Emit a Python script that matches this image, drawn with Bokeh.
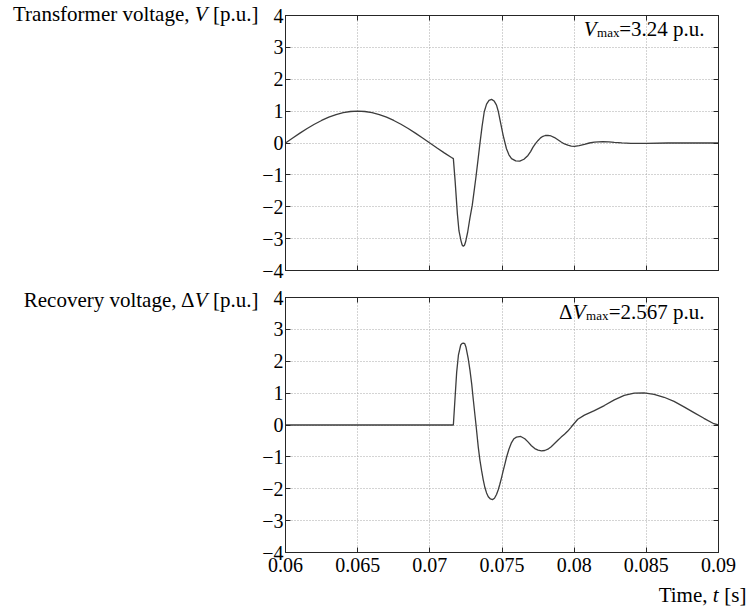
from bokeh.plotting import figure
from bokeh.layouts import column, row
from bokeh.models import Label, LinearAxis, FixedTicker, Range1d
from bokeh.embed import file_html
from bokeh.resources import INLINE

# ---------------- data ----------------
x_ticks = [0.06, 0.065, 0.07, 0.075, 0.08, 0.085, 0.09]
x_tick_labels = ["0.06", "0.065", "0.07", "0.075", "0.08", "0.085", "0.09"]
y_ticks = [-4, -3, -2, -1, 0, 1, 2, 3, 4]
y_tick_labels = ["\u22124", "\u22123", "\u22122", "\u22121", "0", "1", "2", "3", "4"]

# Transformer voltage V [p.u.]
t_v = [0.0600, 0.0605, 0.0610, 0.0615, 0.0620, 0.0625, 0.0630, 0.0635, 0.0640, 0.0645,
       0.0650, 0.0655, 0.0660, 0.0665, 0.0670, 0.0675, 0.0680, 0.0685, 0.0690, 0.0695,
       0.0700, 0.0705, 0.0710, 0.0715, 0.07163,
       0.07175, 0.07191, 0.07202, 0.07216, 0.07224, 0.07232,
       0.07240, 0.07248, 0.07262, 0.07278, 0.07294, 0.07310, 0.07320, 0.07334, 0.07347,
       0.07362, 0.07377, 0.07393, 0.07410, 0.07428, 0.07445, 0.07462, 0.07475, 0.07485,
       0.07497, 0.07508, 0.07520, 0.07531, 0.07548, 0.07566, 0.07595, 0.07623, 0.07652,
       0.07680, 0.07698, 0.07715, 0.07732, 0.07750, 0.07767, 0.07784, 0.07800, 0.07818,
       0.07840, 0.07864, 0.07887, 0.07910, 0.07933, 0.07956, 0.07980, 0.08002, 0.08035,
       0.08071, 0.08105, 0.08140, 0.08198, 0.08240, 0.08278, 0.08330, 0.08393, 0.08500,
       0.08650, 0.09000]
v_v = [0.000, 0.156, 0.309, 0.454, 0.588, 0.707, 0.809, 0.891, 0.951, 0.988,
       1.000, 0.988, 0.951, 0.891, 0.809, 0.707, 0.588, 0.454, 0.309, 0.156,
       0.000, -0.156, -0.309, -0.454, -0.49,
       -1.18, -2.23, -2.76, -3.07, -3.20, -3.24,
       -3.21, -3.10, -2.80, -2.35, -1.95, -1.40, -1.05, -0.52, -0.02,
       0.52, 0.98, 1.22, 1.34, 1.37, 1.32, 1.19, 0.98, 0.75,
       0.48, 0.24, 0.02, -0.18, -0.37, -0.49, -0.56, -0.57, -0.51,
       -0.39, -0.27, -0.13, -0.02, 0.08, 0.16, 0.21, 0.235, 0.24,
       0.22, 0.17, 0.10, 0.03, -0.03, -0.07, -0.10, -0.105, -0.08,
       -0.04, 0.00, 0.03, 0.04, 0.035, 0.02, 0.005, -0.01, -0.01,
       0.00, 0.00]

# Recovery voltage dV [p.u.]
t_dv = [0.0600, 0.0650, 0.0700, 0.07163,
        0.07175, 0.07186, 0.07198, 0.07214, 0.07224, 0.07232, 0.07242, 0.07250, 0.07266,
        0.07278, 0.07290, 0.07301, 0.07313, 0.07320, 0.07336, 0.07347, 0.07359, 0.07370,
        0.07382, 0.07393, 0.07405, 0.07420, 0.07434, 0.07448, 0.07462, 0.07474, 0.07485,
        0.07497, 0.07508, 0.07520, 0.07531, 0.07548, 0.07566, 0.07583, 0.07600, 0.07630,
        0.07658, 0.07680, 0.07704, 0.07727, 0.07750, 0.07773, 0.07796, 0.07818, 0.07841,
        0.07864, 0.07887, 0.07910, 0.07933, 0.07956, 0.07975, 0.07991, 0.08025, 0.08071,
        0.08140, 0.08209, 0.08278, 0.08347, 0.08416, 0.08485, 0.08554, 0.08623, 0.08692,
        0.08761, 0.08830, 0.08899, 0.08968, 0.09000]
v_dv = [0.0, 0.0, 0.0, 0.0,
        0.87, 1.66, 2.19, 2.51, 2.56, 2.567, 2.55, 2.45, 2.08,
        1.72, 1.29, 0.80, 0.29, 0.00, -0.71, -1.10, -1.44, -1.72,
        -1.97, -2.13, -2.25, -2.32, -2.34, -2.30, -2.18, -2.03, -1.86,
        -1.65, -1.44, -1.23, -1.02, -0.76, -0.55, -0.43, -0.38, -0.36,
        -0.43, -0.53, -0.65, -0.74, -0.79, -0.81, -0.80, -0.76, -0.68,
        -0.58, -0.48, -0.38, -0.29, -0.19, -0.09, 0.00, 0.18, 0.31,
        0.45, 0.61, 0.79, 0.93, 1.00, 1.01, 0.96, 0.87, 0.74,
        0.57, 0.39, 0.21, 0.04, 0.00]

FONT = "Liberation Serif"
EDGE = "#262626"
LINE = "#3c3c3c"
GRID = "#a8a8a8"

LEFT_W = 259          # width of the text column left of the plots
MAIN_W = 491          # width of each plot canvas
TOP_H = 283
BOT_H = 295
XLAB_H = 30


def style_axis(ax, show_labels, standoff):
    ax.axis_line_color = EDGE
    ax.major_tick_line_color = EDGE
    ax.major_tick_in = 5
    ax.major_tick_out = 0
    ax.minor_tick_line_color = None
    ax.major_label_text_font = FONT
    ax.major_label_standoff = standoff
    if show_labels:
        ax.major_label_text_font_size = "20px"
        ax.major_label_text_color = "black"
    else:
        ax.major_label_text_font_size = "1px"
        ax.major_label_text_color = None
        ax.major_label_standoff = 0


def make_fig(height, top, bottom, show_x_labels):
    p = figure(width=MAIN_W, height=height,
               x_range=Range1d(0.06, 0.09), y_range=Range1d(-4, 4),
               output_backend="svg", toolbar_location=None,
               min_border_left=24, min_border_right=MAIN_W - 24 - 435,
               min_border_top=top, min_border_bottom=bottom)
    p.background_fill_color = "white"
    p.border_fill_color = "white"
    p.outline_line_color = EDGE
    xt = FixedTicker(ticks=x_ticks)
    yt = FixedTicker(ticks=y_ticks)
    p.xaxis.ticker = xt
    p.yaxis.ticker = yt
    p.xaxis.major_label_overrides = {k: s for k, s in zip(x_ticks, x_tick_labels)}
    p.yaxis.major_label_overrides = {k: s for k, s in zip(y_ticks, y_tick_labels)}
    style_axis(p.xaxis[0], show_x_labels, 5)
    style_axis(p.yaxis[0], True, 2)
    ax_top = LinearAxis(ticker=xt)
    style_axis(ax_top, False, 0)
    ax_right = LinearAxis(ticker=yt)
    style_axis(ax_right, False, 0)
    p.add_layout(ax_top, "above")
    p.add_layout(ax_right, "right")
    p.xgrid.ticker = xt
    p.ygrid.ticker = yt
    p.grid.grid_line_color = GRID
    p.grid.grid_line_dash = "1 2"
    p.grid.grid_line_width = 1
    return p


def text_fig(width, height):
    # blank canvas whose data units are pixels, y measured from the top
    f = figure(width=width, height=height,
               x_range=Range1d(0, width), y_range=Range1d(0, height),
               output_backend="svg", toolbar_location=None, title=None,
               x_axis_location=None, y_axis_location=None,
               min_border=0, min_border_top=0, min_border_bottom=0,
               min_border_left=0, min_border_right=0)
    f.grid.visible = False
    f.outline_line_color = None
    f.background_fill_color = "white"
    f.border_fill_color = "white"
    return f


def lab(p, x, y, text, xo=0, yo=0, size="21px", style="normal", align="right"):
    p.add_layout(Label(x=x, y=y, x_offset=xo, y_offset=yo, text=text,
                       text_font=FONT, text_font_size=size, text_font_style=style,
                       text_align=align, text_baseline="middle",
                       text_color="black"))


def tlab(f, x, y_from_top, text, size="21px", style="normal"):
    h = f.y_range.end
    lab(f, x, h - y_from_top, text, size=size, style=style)


# ---------------- top ----------------
p1 = make_fig(TOP_H, 15, 13, False)
p1.line(t_v, v_v, line_color=LINE, line_width=1.3)
lab(p1, 0.09, 4, "=3.24 p.u.", -14, -13)
lab(p1, 0.09, 4, "max", -99, -17, size="13px")
lab(p1, 0.09, 4, "V", -122, -13, style="italic")

t1 = text_fig(LEFT_W, TOP_H)
tlab(t1, 258, 13, "[p.u.]")
tlab(t1, 207, 13, "V", style="italic")
tlab(t1, 189, 13, "Transformer voltage,")

# ---------------- bottom ----------------
p2 = make_fig(BOT_H, 14, 26, True)
p2.line(t_dv, v_dv, line_color=LINE, line_width=1.3)
lab(p2, 0.09, 4, "=2.567 p.u.", -14, -14)
lab(p2, 0.09, 4, "max", -110, -18, size="13px")
lab(p2, 0.09, 4, "V", -133, -14, style="italic")
lab(p2, 0.09, 4, "\u0394", -146, -14)

t2 = text_fig(LEFT_W, BOT_H)
tlab(t2, 258, 16, "[p.u.]")
tlab(t2, 207, 16, "V", style="italic")
tlab(t2, 194, 16, "\u0394")
tlab(t2, 176, 16, "Recovery voltage,")

# ---------------- x label ----------------
t3 = text_fig(LEFT_W + MAIN_W, XLAB_H)
tlab(t3, 746, 16, "[s]")
tlab(t3, 718, 16, "t", style="italic")
tlab(t3, 707, 16, "Time,")

layout = column(row(column(t1, t2, spacing=0), column(p1, p2, spacing=0), spacing=0),
                t3, spacing=0)
open("out.html", "w").write(file_html(layout, INLINE))
